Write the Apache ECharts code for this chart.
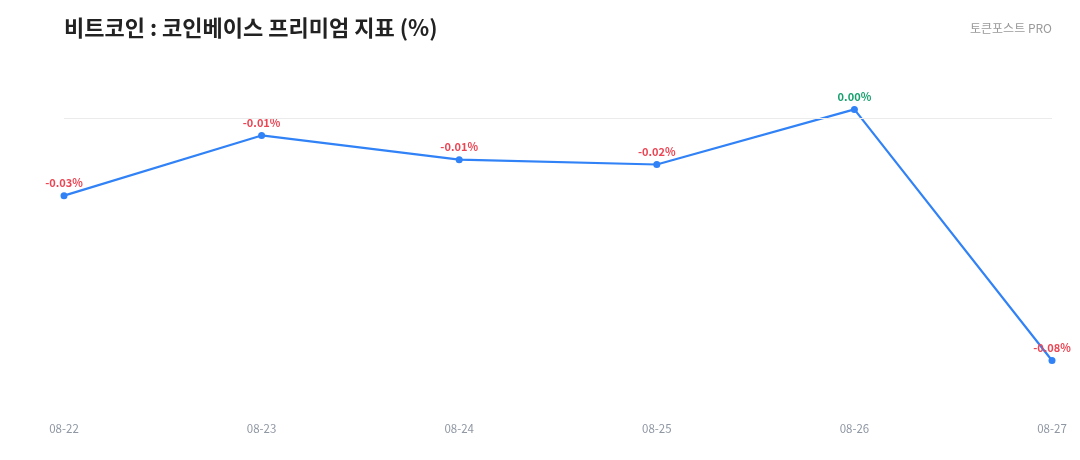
<!DOCTYPE html>
<html>
<head>
<meta charset="utf-8">
<script src="https://cdn.jsdelivr.net/npm/echarts@6/dist/echarts.min.js"></script>
<style>
  html, body { margin: 0; padding: 0; background: #fff; }
  #chart-container { width: 1080px; height: 460px; }
</style>
</head>
<body>
<div id="chart-container"></div>
<script>
var dates = ["08-22", "08-23", "08-24", "08-25", "08-26", "08-27"];
var premium = [-0.0255, -0.0056, -0.0136, -0.0152, 0.003, -0.08];

var dom = document.getElementById("chart-container");
var myChart = echarts.init(dom, null, { renderer: "canvas" });

var font = "'Noto Sans CJK KR', 'Noto Sans', sans-serif";

function pointColor(v) {
  return v >= 0 ? "#17a06e" : "#ec4452";
}

var option = {
  animation: false,
  textStyle: { fontFamily: font },
  title: [
    {
      text: "비트코인 : 코인베이스 프리미엄 지표 (%)",
      left: 64,
      top: 17,
      padding: 0,
      textStyle: { fontSize: 22, fontWeight: "bold", color: "#222", fontFamily: font },
    },
    {
      text: "토큰포스트 PRO",
      right: 28,
      top: 22,
      padding: 0,
      textStyle: { fontSize: 12, fontWeight: "normal", color: "#999", fontFamily: font },
    },
  ],
  grid: { left: 64, right: 28, top: 58, bottom: 39 },
  xAxis: {
    type: "category",
    data: dates,
    boundaryGap: false,
    axisLine: { show: false },
    axisTick: { show: false },
    axisLabel: { color: "#8f97a3", fontSize: 11.5, margin: 2 },
  },
  yAxis: {
    type: "value",
    min: -0.1,
    max: 0.02,
    show: false,
    splitLine: { show: false },
  },
  series: [
    {
      type: "line",
      data: premium.map(function (v) {
        return { value: v, label: { color: pointColor(v) } };
      }),
      symbol: "circle",
      symbolSize: 7,
      lineStyle: { color: "#3182f6", width: 2.2 },
      itemStyle: { color: "#3182f6" },
      label: {
        show: true,
        position: "top",
        distance: 4,
        fontSize: 11,
        fontWeight: "bold",
        formatter: function (p) {
          var s = p.value.toFixed(2);
          if (s === "-0.00") s = "0.00";
          return s + "%";
        },
      },
      markLine: {
        silent: true,
        symbol: "none",
        label: { show: false },
        lineStyle: { color: "#ebebeb", type: "solid", width: 1 },
        data: [{ yAxis: 0 }],
      },
    },
  ],
};

myChart.setOption(option);
window.addEventListener("resize", myChart.resize);
</script>
</body>
</html>
